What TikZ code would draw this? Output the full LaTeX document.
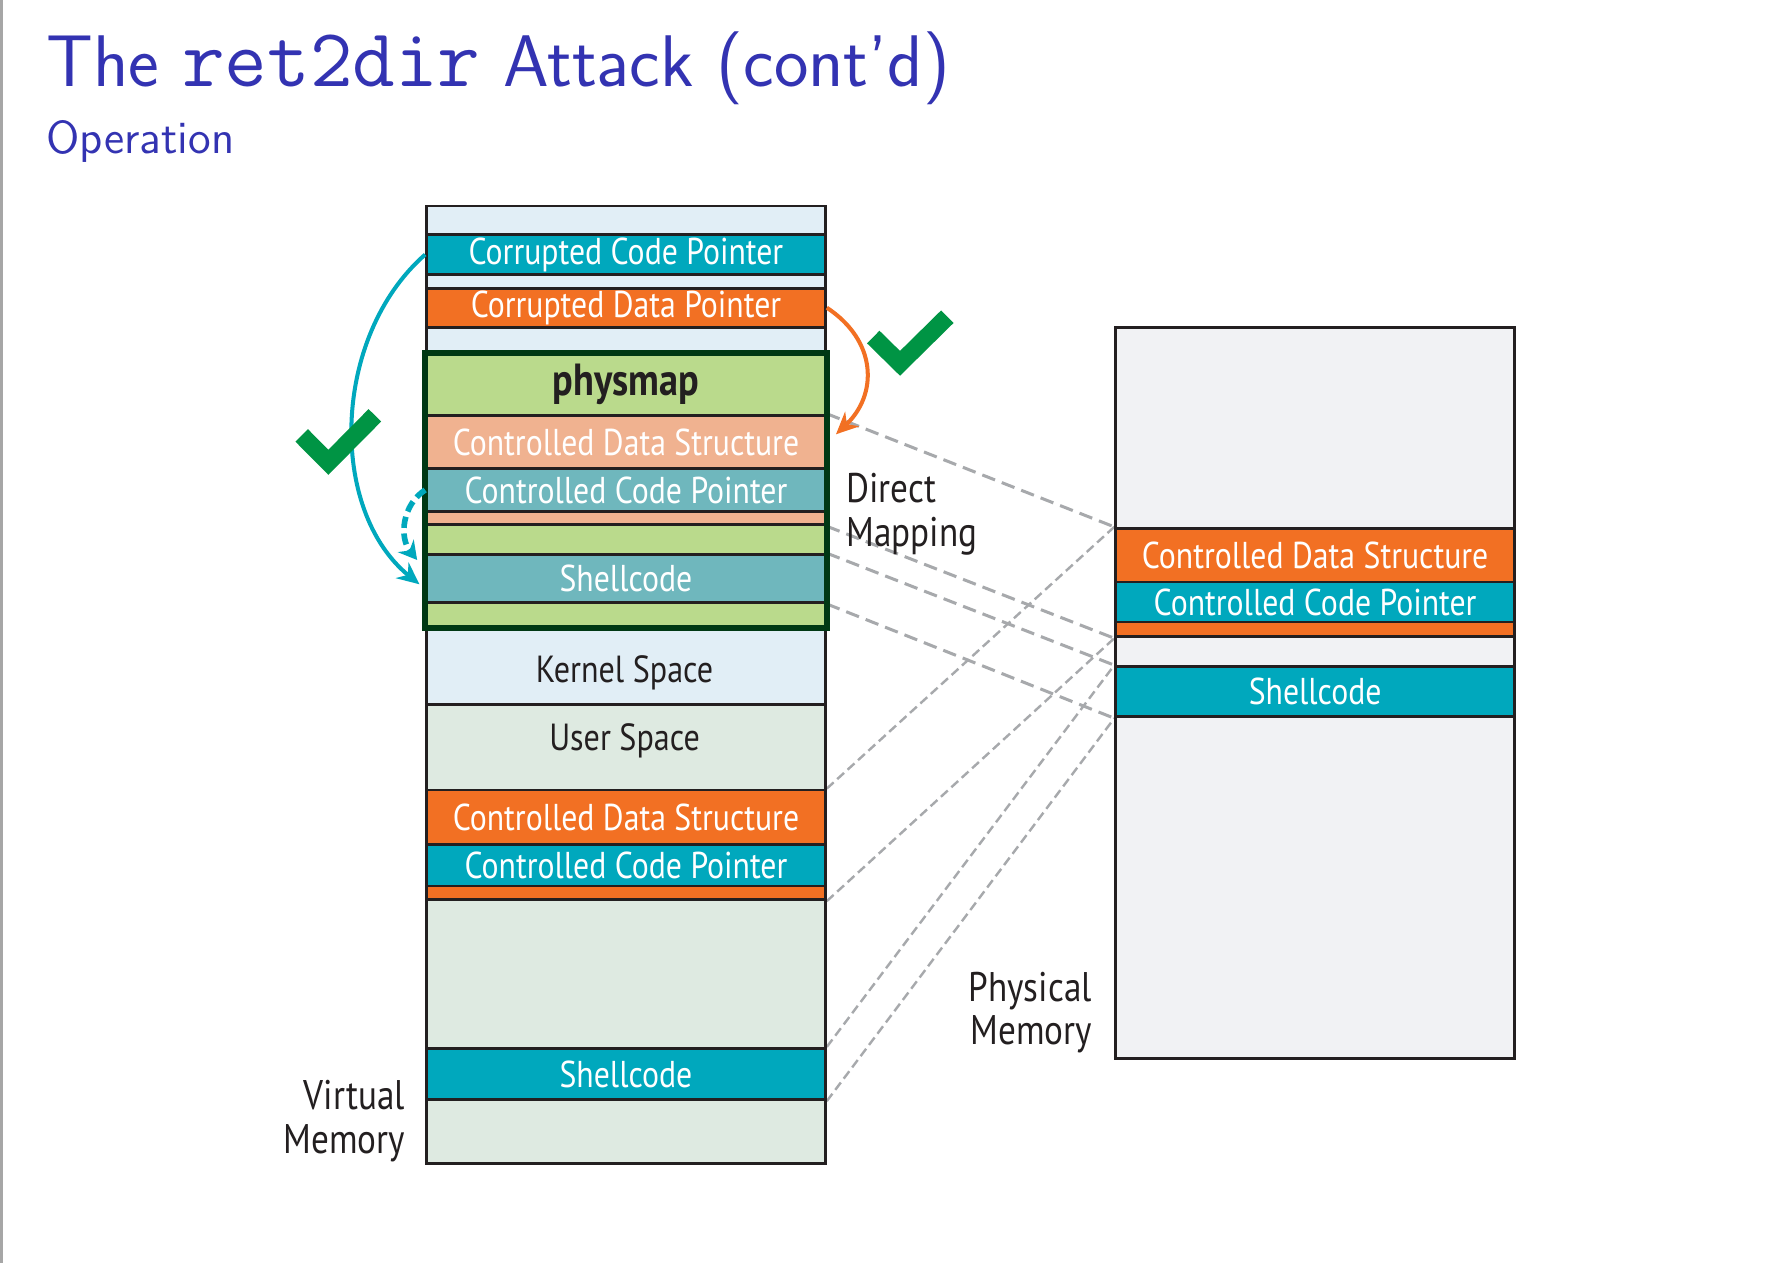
\documentclass[tikz,border=0pt]{standalone}
\usepackage{fontspec}
\newfontfamily\boxfont[FakeStretch=0.85]{PT Sans}
\usetikzlibrary{arrows.meta,fit,calc}
\definecolor{cteal}{RGB}{0,168,189}
\definecolor{corange}{RGB}{242,112,35}
\definecolor{clblue}{RGB}{225,238,246}
\definecolor{cgreen}{RGB}{186,218,140}
\definecolor{csalmon}{RGB}{240,178,144}
\definecolor{cmteal}{RGB}{111,183,189}
\definecolor{cuser}{RGB}{222,234,225}
\definecolor{cphys}{RGB}{241,242,244}
\definecolor{cdkgreen}{RGB}{0,56,20}
\definecolor{coutline}{RGB}{35,31,32}
\definecolor{cdash}{RGB}{167,169,172}
\definecolor{ccheck}{RGB}{0,148,68}
\definecolor{ctitle}{RGB}{51,51,178}
\pgfdeclarelayer{bg}
\pgfsetlayers{bg,main}
\tikzset{
  row/.style={draw=coutline, line width=0.7pt, minimum width=3.49cm, inner sep=0pt,
    anchor=north west, text=white, font=\boxfont\fontsize{9.3}{11}\selectfont},
  lbl/.style={inner sep=0pt, text=coutline, font=\boxfont\fontsize{10.3}{10.8}\selectfont},
  mapA/.style={draw=cdash, line width=0.75pt, dash pattern=on 3.4pt off 1.8pt},
  mapB/.style={draw=cdash, line width=0.6pt, dash pattern=on 2.3pt off 1.2pt},
  tealarrow/.style={draw=cteal, line width=1pt, -{Stealth[length=5.5pt,width=5pt]}},
  tealdash/.style={draw=cteal, line width=1.4pt, dash pattern=on 2.8pt off 1.4pt, -{Stealth[length=4.5pt,width=5pt]}},
  orangearrow/.style={draw=corange, line width=1pt, -{Stealth[length=5.5pt,width=5pt]}},
  checkmark/.style={draw=ccheck, line width=4.4pt, line join=miter, line cap=butt},
}
\begin{document}
\begin{tikzpicture}
\useasboundingbox (0,0) rectangle (15.68,-11.05);
\begin{pgfonlayer}{bg}
\fill[white] (0,0) rectangle (15.68,-11.05);
\end{pgfonlayer}
\draw[gray!70, line width=0.8pt] (0.015,0) -- (0.015,-11.05);

% title
\node[anchor=base west, inner sep=0pt, text=ctitle, font=\sffamily\fontsize{18.2}{20}\selectfont] (title) at (0.40,-0.76)
  {The {\ttfamily\fontsize{20.6}{20}\selectfont ret2dir} Attack (cont’d)};
\node[anchor=base west, inner sep=0pt, text=ctitle, font=\sffamily\fontsize{11.5}{13}\selectfont] (subtitle) at (0.40,-1.34) {Operation};

% virtual memory column
\node[row, fill=clblue,  minimum height=0.25cm] (v0) at (3.72,-1.79) {};
\node[row, fill=cteal,   minimum height=0.35cm] (v1) at (3.72,-2.04) {Corrupted Code Pointer};
\node[row, fill=clblue,  minimum height=0.12cm] (v2) at (3.72,-2.39) {};
\node[row, fill=corange, minimum height=0.34cm] (v3) at (3.72,-2.51) {Corrupted Data Pointer};
\node[row, fill=clblue,  minimum height=0.24cm] (v4) at (3.72,-2.85) {};
\node[row, fill=cgreen,  minimum height=0.53cm, text=coutline, font=\boxfont\bfseries\fontsize{11.2}{12}\selectfont] (p0) at (3.72,-3.09) {physmap};
\node[row, fill=csalmon, minimum height=0.47cm] (p1) at (3.72,-3.62) {Controlled Data Structure};
\node[row, fill=cmteal,  minimum height=0.37cm] (p2) at (3.72,-4.09) {Controlled Code Pointer};
\node[row, fill=csalmon, minimum height=0.12cm] (p3) at (3.72,-4.46) {};
\node[row, fill=cgreen,  minimum height=0.26cm] (p4) at (3.72,-4.58) {};
\node[row, fill=cmteal,  minimum height=0.42cm] (p5) at (3.72,-4.84) {Shellcode};
\node[row, fill=cgreen,  minimum height=0.21cm] (p6) at (3.72,-5.26) {};
\node[row, fill=clblue,  minimum height=0.68cm] (v5) at (3.72,-5.47) {};
\node[row, fill=cuser,   minimum height=0.75cm] (v6) at (3.72,-6.15) {};
\node[row, fill=corange, minimum height=0.48cm] (v7) at (3.72,-6.90) {Controlled Data Structure};
\node[row, fill=cteal,   minimum height=0.36cm] (v8) at (3.72,-7.38) {Controlled Code Pointer};
\node[row, fill=corange, minimum height=0.12cm] (v9) at (3.72,-7.74) {};
\node[row, fill=cuser,   minimum height=1.30cm] (v10) at (3.72,-7.86) {};
\node[row, fill=cteal,   minimum height=0.45cm] (v11) at (3.72,-9.16) {Shellcode};
\node[row, fill=cuser,   minimum height=0.56cm] (v12) at (3.72,-9.61) {};
\node[fit=(p0)(p6), draw=cdkgreen, line width=1.6pt, inner sep=0pt] (pm) {};
\node[lbl, font=\boxfont\fontsize{9.4}{11}\selectfont] (kst) at (5.465,-5.89) {Kernel Space};
\node[lbl, font=\boxfont\fontsize{9.4}{11}\selectfont] (ust) at (5.465,-6.48) {User Space};

% physical memory column
\node[row, fill=cphys,   minimum height=1.76cm] (r0) at (9.75,-2.85) {};
\node[row, fill=corange, minimum height=0.47cm] (r1) at (9.75,-4.61) {Controlled Data Structure};
\node[row, fill=cteal,   minimum height=0.35cm] (r2) at (9.75,-5.08) {Controlled Code Pointer};
\node[row, fill=corange, minimum height=0.13cm] (r3) at (9.75,-5.43) {};
\node[row, fill=cphys,   minimum height=0.26cm] (r4) at (9.75,-5.56) {};
\node[row, fill=cteal,   minimum height=0.44cm] (r5) at (9.75,-5.82) {Shellcode};
\node[row, fill=cphys,   minimum height=2.99cm] (r6) at (9.75,-6.26) {};

% labels
\node[lbl, align=left, anchor=west] (dm) at (7.40,-4.50) {Direct\\Mapping};
\node[lbl, align=right, anchor=east] (pmem) at (9.56,-8.86) {Physical\\Memory};
\node[lbl, align=right, anchor=east] (vmem) at (3.55,-9.81) {Virtual\\Memory};

% mapping lines
\begin{pgfonlayer}{bg}
\draw[mapA] (p1.north east) -- (r1.north west);
\draw[mapA] (p3.south east) -- (r3.south west);
\draw[mapA] (p5.north east) -- (r5.north west);
\draw[mapA] (p5.south east) -- (r5.south west);
\draw[mapB] (v7.north east) -- (r1.north west);
\draw[mapB] (v9.south east) -- (r3.south west);
\draw[mapB] (v11.north east) -- (r5.north west);
\draw[mapB] (v11.south east) -- (r5.south west);
\end{pgfonlayer}

% arrows
\draw[tealarrow] (v1.west) .. controls +(-0.82,-0.72) and +(-0.80,0.65) .. ($(p5.west)+(-0.05,-0.05)$);
\draw[tealdash] (p2.west) .. controls +(-0.20,-0.13) and +(-0.16,0.20) .. ($(p5.north west)+(-0.07,-0.06)$);
\draw[orangearrow] (v3.east) .. controls +(0.44,-0.29) and +(0.37,0.35) .. ($(p1.north east)+(0.08,-0.18)$);

% check marks
\draw[checkmark] (2.64,-3.81) -- (2.873,-4.045) -- (3.28,-3.634);
\draw[checkmark] (7.641,-2.949) -- (7.875,-3.179) -- (8.289,-2.771);
\end{tikzpicture}
\end{document}
